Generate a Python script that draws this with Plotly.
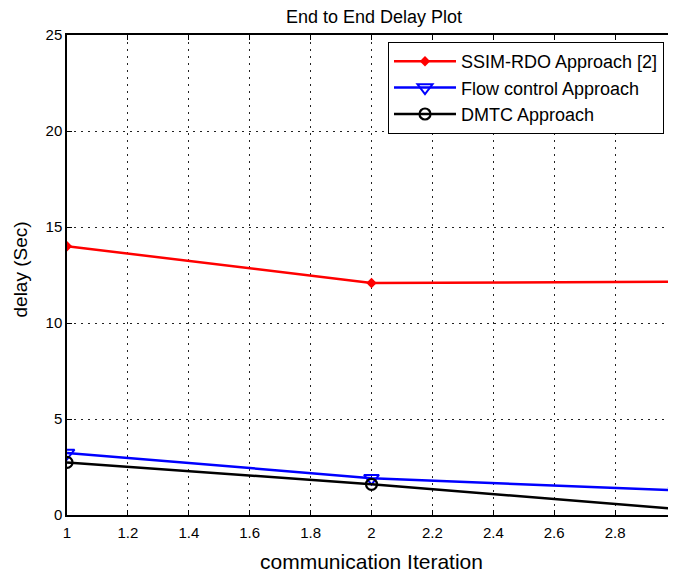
import plotly.graph_objects as go

iterations = [1, 2, 3]
ssim_rdo = [14.0, 12.08, 12.15]
flow_control = [3.23, 1.92, 1.28]
dmtc = [2.74, 1.6, 0.32]

x_ticks = [1, 1.2, 1.4, 1.6, 1.8, 2, 2.2, 2.4, 2.6, 2.8, 3]
x_tick_text = ["1", "1.2", "1.4", "1.6", "1.8", "2", "2.2", "2.4", "2.6", "2.8", "3"]
y_ticks = [0, 5, 10, 15, 20, 25]

FONT = "Liberation Sans, Arial, sans-serif"

fig = go.Figure()
fig.add_trace(go.Scatter(x=iterations, y=ssim_rdo, mode="lines+markers",
                         name="SSIM-RDO Approach [2]",
                         line=dict(color="#ff0000", width=2.5),
                         marker=dict(symbol="diamond", size=8, color="#ff0000")))
fig.add_trace(go.Scatter(x=iterations, y=flow_control, mode="lines+markers",
                         name="Flow control Approach",
                         line=dict(color="#0000ff", width=2.5),
                         marker=dict(symbol="triangle-down-open", size=13, color="#0000ff",
                                     line=dict(width=2, color="#0000ff"))))
fig.add_trace(go.Scatter(x=iterations, y=dmtc, mode="lines+markers",
                         name="DMTC Approach",
                         line=dict(color="#000000", width=2.5),
                         marker=dict(symbol="circle-open", size=11, color="#000000",
                                     line=dict(width=2.2, color="#000000"))))

axis_common = dict(
    showline=True, linecolor="black", linewidth=1.5, mirror="ticks",
    ticks="inside", ticklen=5, tickcolor="black", tickwidth=1,
    showgrid=True, gridcolor="#222222", gridwidth=1, griddash="2px,5px",
    zeroline=False, automargin=False, ticklabeloverflow="allow",
    tickfont=dict(family=FONT, size=15, color="black"),
)

fig.update_xaxes(range=[1, 3], tickvals=x_ticks, ticktext=x_tick_text, ticklabelstandoff=3,
                 title=dict(text="communication Iteration",
                            font=dict(family=FONT, size=21, color="black"), standoff=15),
                 **axis_common)
fig.update_yaxes(range=[0, 25], tickvals=y_ticks, **axis_common)

fig.add_annotation(text="delay (Sec)", textangle=-90, showarrow=False, borderpad=0,
                   xref="paper", yref="paper", x=(19.5 - 67) / 609, y=(515 - 270) / 480,
                   xanchor="center", yanchor="middle",
                   font=dict(family=FONT, size=19, color="black"))

fig.update_layout(
    width=668, height=567,
    margin=dict(l=59, r=0, t=27, b=60),
    paper_bgcolor="white", plot_bgcolor="white",
    title=dict(text="End to End Delay Plot", x=(374 - 8) / 668, xanchor="center",
               yref="container", y=1 - 8.5 / 567, yanchor="middle",
               font=dict(family=FONT, size=18, color="black")),
    legend=dict(x=(388 - 67) / 609, y=(515 - 42) / 480, xanchor="left", yanchor="top",
                bordercolor="black", borderwidth=1, bgcolor="white",
                font=dict(family=FONT, size=18, color="black"),
                tracegroupgap=0, itemwidth=62),
    showlegend=True,
)

fig.write_html("out.html")
